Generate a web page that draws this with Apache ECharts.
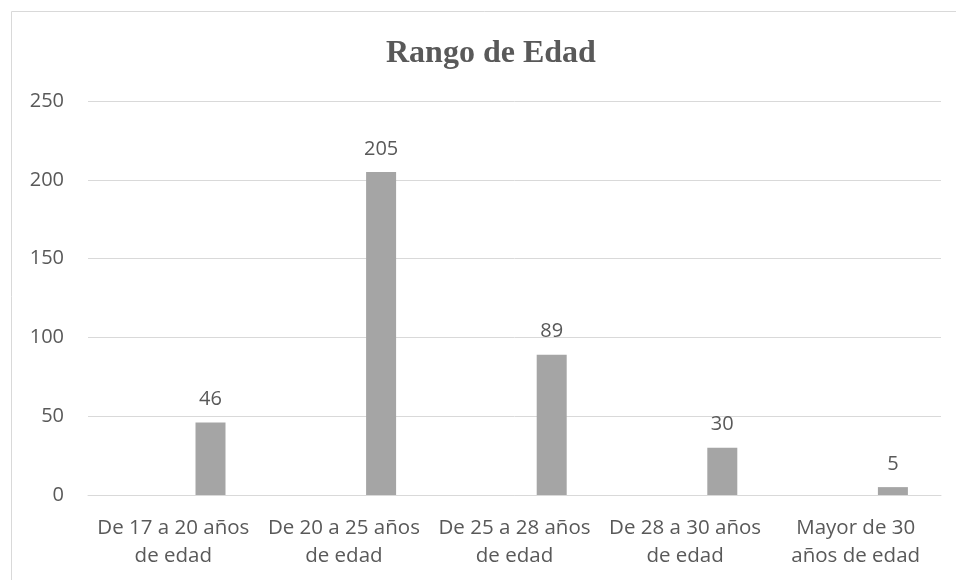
<!DOCTYPE html>
<html>
<head>
<meta charset="utf-8">
<script src="https://cdn.jsdelivr.net/npm/echarts@6/dist/echarts.min.js"></script>
<style>
  html, body { margin: 0; padding: 0; background: #ffffff; }
  #chart { width: 956px; height: 580px; }
</style>
</head>
<body>
<div id="chart"></div>
<script>
var categories = [
  "De 17 a 20 años\nde edad",
  "De 20 a 25 años\nde edad",
  "De 25 a 28 años\nde edad",
  "De 28 a 30 años\nde edad",
  "Mayor de 30\naños de edad"
];
// empty series that Excel left in front of the real one
var emptyValues = [null, null, null, null, null];
var ageValues = [46, 205, 89, 30, 5];
var yTicks = { min: 0, max: 250, interval: 50 };

var textColor = "#595959";
var sansFont = "'Open Sans', 'Liberation Sans', sans-serif";

var chart = echarts.init(document.getElementById("chart"));
chart.setOption({
  animation: false,
  title: {
    text: "Rango de Edad",
    left: 381,
    top: 33,
    textStyle: {
      color: textColor,
      fontFamily: "'Liberation Serif', 'Times New Roman', serif",
      fontWeight: "bold",
      fontSize: 32
    }
  },
  grid: {
    left: 88,
    right: 15,
    top: 101,
    bottom: 85
  },
  xAxis: {
    type: "category",
    data: categories,
    axisTick: { show: false },
    axisLine: { show: true, lineStyle: { color: "#d9d9d9", width: 1 } },
    axisLabel: {
      color: textColor,
      fontFamily: sansFont,
      fontSize: 20.5,
      lineHeight: 28,
      margin: 19,
      interval: 0
    }
  },
  yAxis: {
    type: "value",
    min: yTicks.min,
    max: yTicks.max,
    interval: yTicks.interval,
    axisLine: { show: false },
    axisTick: { show: false },
    splitLine: { lineStyle: { color: "#d9d9d9", width: 1 } },
    axisLabel: {
      color: textColor,
      fontFamily: sansFont,
      fontSize: 20,
      margin: 24
    }
  },
  series: [
    {
      name: "vacía",
      type: "bar",
      data: emptyValues,
      barWidth: 30,
      barGap: "148%",
      silent: true
    },
    {
      name: "Rango de Edad",
      type: "bar",
      data: ageValues,
      barWidth: 30,
      itemStyle: { color: "#a5a5a5" },
      label: {
        show: true,
        position: "top",
        distance: 13,
        color: textColor,
        fontFamily: sansFont,
        fontSize: 20
      }
    }
  ],
  graphic: [
    {
      type: "rect",
      shape: { x: 11.5, y: 11.5, width: 1200, height: 1200 },
      style: { fill: null, stroke: "#d9d9d9", lineWidth: 1 },
      silent: true
    }
  ]
});
</script>
</body>
</html>
